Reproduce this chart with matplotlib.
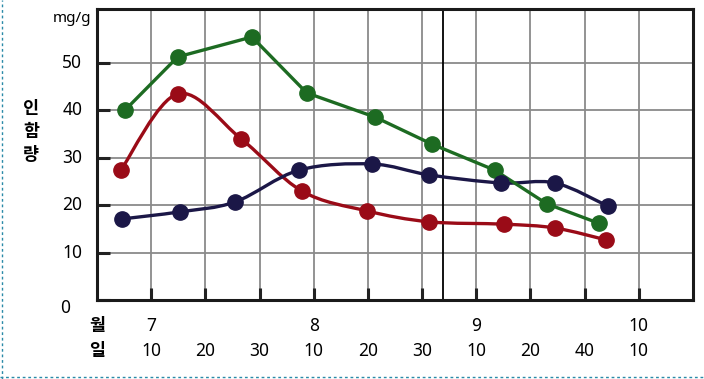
import matplotlib
matplotlib.use("Agg")
import matplotlib.pyplot as plt
from matplotlib.path import Path
from matplotlib.patches import PathPatch
from matplotlib.lines import Line2D
import numpy as np

plt.rcParams['font.family'] = ['Noto Sans', 'Noto Sans CJK KR', 'DejaVu Sans']

# x positions are in tick-slot units (tick 1 = 7/10, tick 2 = 7/20, ...)
day_labels = ["10", "20", "30", "10", "20", "30", "10", "20", "40", "10"]
month_labels = {1: "7", 4: "8", 7: "9", 10: "10"}
month_break = 6.38

green_x = [0.52, 1.49, 2.86, 3.87, 5.13, 6.18, 7.34, 8.30, 9.26]
green_y = [40.1, 51.3, 55.5, 43.7, 38.6, 32.9, 27.4, 20.3, 16.2]

red_x = [0.44, 1.49, 2.66, 3.78, 4.98, 6.13, 7.51, 8.45, 9.39]
red_y = [27.4, 43.5, 34.0, 23.0, 18.8, 16.5, 16.0, 15.2, 12.7]

navy_x = [0.46, 1.53, 2.55, 3.73, 5.07, 6.13, 7.45, 8.45, 9.43]
navy_y = [17.1, 18.6, 20.7, 27.4, 28.7, 26.4, 24.7, 24.7, 19.8]

GREEN = "#1d6b22"
RED = "#9a0b17"
NAVY = "#1b1747"
KFONT = ['Noto Sans CJK KR', 'DejaVu Sans']


def smooth_path(xs, ys, tension=0.5):
    # Catmull-Rom through the data points, drawn as cubic Bezier segments
    pts = np.column_stack([xs, ys])
    verts = [pts[0]]
    codes = [Path.MOVETO]
    n = len(pts)
    for i in range(n - 1):
        p0 = pts[i - 1] if i > 0 else pts[i]
        p1, p2 = pts[i], pts[i + 1]
        p3 = pts[i + 2] if i + 2 < n else pts[i + 1]
        c1 = p1 + (p2 - p0) * tension / 3
        c2 = p2 - (p3 - p1) * tension / 3
        verts += [c1, c2, p2]
        codes += [Path.CURVE4] * 3
    return Path(verts, codes)


fig = plt.figure(figsize=(7.04, 3.79), dpi=100)
ax = fig.add_axes([97 / 704, 1 - 300 / 379, (693 - 97) / 704, (300 - 9) / 379])

ax.set_xlim(0, 11)
ax.set_ylim(0, 61.4)

ax.set_xticks(range(1, 11))
ax.set_yticks([0, 10, 20, 30, 40, 50])
ax.grid(True, color="#8a8a8a", linewidth=1.3)
ax.set_axisbelow(True)
ax.tick_params(axis="both", direction="in", length=9, width=2.2, color="#222222")
ax.set_xticklabels([])
ax.set_yticklabels([])
for s in ax.spines.values():
    s.set_linewidth(2.2)
    s.set_color("#1a1a1a")

ax.axvline(month_break, color="black", linewidth=1.3)

# lines
ax.plot(green_x, green_y, color=GREEN, linewidth=2.4, marker="o",
        markersize=11, zorder=4)
for xs, ys, c in [(red_x, red_y, RED), (navy_x, navy_y, NAVY)]:
    ax.add_patch(PathPatch(smooth_path(xs, ys), facecolor="none",
                           edgecolor=c, linewidth=2.4, zorder=3))
    ax.plot(xs, ys, linestyle="none", marker="o", color=c, markersize=11,
            zorder=4)

# y tick labels
for v in [10, 20, 30, 40, 50]:
    ax.text(-0.27, v, str(v), ha="right", va="center", fontsize=12.5,
            clip_on=False)
ax.text(-0.5, -1.7, "0", ha="right", va="center", fontsize=12.5, clip_on=False)
ax.text(-0.1, 59.3, "mg/g", ha="right", va="center", fontsize=11, clip_on=False)
for i, ch in enumerate("인함량"):
    ax.text(-1.22, 40.3 - i * 4.9, ch, ha="center", va="center",
            fontsize=12.5, fontweight="bold", family=KFONT, clip_on=False)

# x labels (month / day rows)
tr = ax.get_xaxis_transform()
ax.text(0, -0.09, "월", ha="center", va="center", fontsize=12.5,
        fontweight="bold", family=KFONT, transform=tr, clip_on=False)
ax.text(0, -0.175, "일", ha="center", va="center", fontsize=12.5,
        fontweight="bold", family=KFONT, transform=tr, clip_on=False)
for pos, lab in month_labels.items():
    ax.text(pos, -0.09, lab, ha="center", va="center", fontsize=12.5,
            transform=tr, clip_on=False)
for pos, lab in enumerate(day_labels, start=1):
    ax.text(pos, -0.175, lab, ha="center", va="center", fontsize=12.5,
            transform=tr, clip_on=False)

# dashed frame on left and bottom edges
fig.add_artist(Line2D([2 / 704, 2 / 704], [0, 1], transform=fig.transFigure,
                      color="#2a8aa8", linewidth=1, linestyle=(0, (2, 2))))
fig.add_artist(Line2D([0, 1], [2 / 379, 2 / 379], transform=fig.transFigure,
                      color="#2a8aa8", linewidth=1, linestyle=(0, (2, 2))))

fig.savefig("out.png", dpi=100)
